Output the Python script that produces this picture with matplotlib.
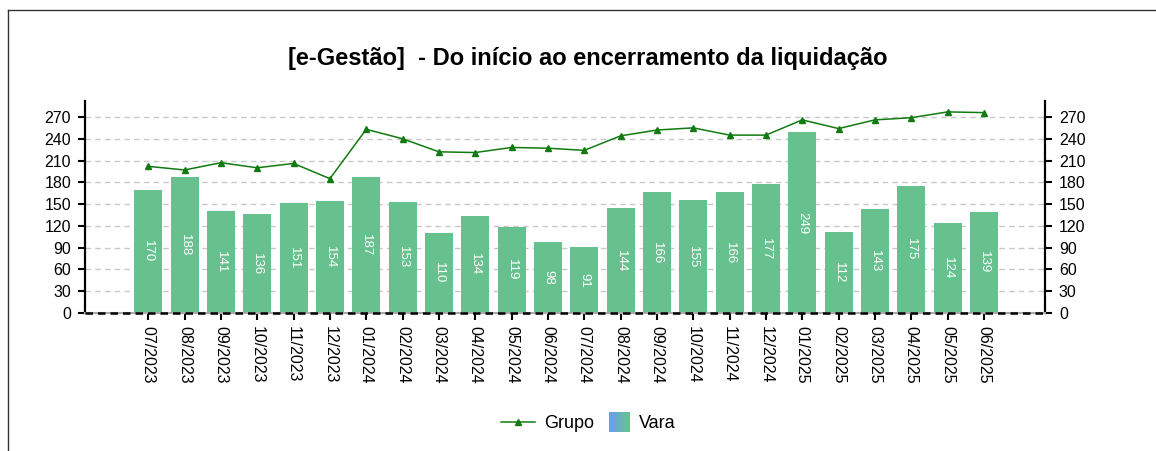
import numpy as np
import matplotlib
matplotlib.use("Agg")
import matplotlib.pyplot as plt
from matplotlib.lines import Line2D
from matplotlib.patches import Rectangle
from matplotlib.legend_handler import HandlerBase

plt.rcParams['font.family'] = ['Liberation Sans', 'DejaVu Sans']

# data
meses = ["07/2023", "08/2023", "09/2023", "10/2023", "11/2023", "12/2023",
         "01/2024", "02/2024", "03/2024", "04/2024", "05/2024", "06/2024",
         "07/2024", "08/2024", "09/2024", "10/2024", "11/2024", "12/2024",
         "01/2025", "02/2025", "03/2025", "04/2025", "05/2025", "06/2025"]
vara = [170, 188, 141, 136, 151, 154, 187, 153, 110, 134, 119, 98,
        91, 144, 166, 155, 166, 177, 249, 112, 143, 175, 124, 139]
grupo = [202, 197, 207, 200, 206, 185, 253, 240, 222, 221, 228, 227,
         224, 244, 252, 255, 245, 245, 266, 254, 266, 269, 277, 276]
y_ticks = list(range(0, 271, 30))

bar_color = "#66c18e"
line_color = "#117a11"


class GradientHandler(HandlerBase):
    # square legend swatch going from blue to green like the original
    def create_artists(self, legend, orig_handle, xdescent, ydescent,
                       width, height, fontsize, trans):
        c0 = np.array(matplotlib.colors.to_rgb("#6a9ff0"))
        c1 = np.array(matplotlib.colors.to_rgb(bar_color))
        side = 14.5
        x0 = -xdescent + width - side
        y0 = -ydescent + height / 2 - side / 2
        n = 12
        arts = []
        for i in range(n):
            c = c0 + (c1 - c0) * i / (n - 1)
            r = Rectangle((x0 + side * i / n, y0), side / n + 0.2, side,
                          facecolor=c, edgecolor="none", transform=trans)
            arts.append(r)
        return arts


fig = plt.figure(figsize=(11.56, 4.51), dpi=100)
ax = fig.add_axes([85 / 1156, 138 / 451, 960 / 1156, 212 / 451])

x = np.arange(len(meses))
ax.bar(x, vara, width=0.77, color=bar_color, zorder=2)
for xi, v in zip(x, vara):
    ax.text(xi, v / 2, str(v), rotation=270, color="white", fontsize=9.5,
            ha="center", va="center", zorder=3)

ax.plot(x, grupo, color=line_color, linewidth=1.1, marker="^", markersize=4,
        zorder=4)

ax.set_xlim(-1.74, 24.68)
ax.set_ylim(0, 292)
ax.set_yticks(y_ticks)
ax.set_xticks(x)
ax.set_xticklabels(meses, rotation=270, fontsize=11.5)
ax.tick_params(axis="y", labelsize=11.5, right=True, labelright=True,
               direction="out", length=5, width=1.5, pad=5)
ax.tick_params(axis="x", direction="out", length=5, width=1.5, pad=4)

ax.grid(axis="y", linestyle=(0, (4, 3)), color="#c8c8c8", linewidth=1, zorder=0)
ax.spines["top"].set_visible(False)
for s in ("left", "right"):
    ax.spines[s].set_linewidth(1.6)
ax.spines["bottom"].set_color("#aaaaaa")
ax.spines["bottom"].set_linewidth(1.5)
ax.axhline(0, color="black", linestyle=(0, (3, 2)), linewidth=1.8, zorder=5,
           clip_on=False)

fig.text(588 / 1156, 1 - 58 / 451,
         "[e-Gestão]  - Do início ao encerramento da liquidação",
         ha="center", va="center", fontsize=17, fontweight="bold")

handles = [Line2D([], [], color=line_color, marker="^", markersize=4, linewidth=1.1),
           Rectangle((0, 0), 1, 1)]
leg = fig.legend(handles, ["Grupo", "Vara"], loc="center",
                 bbox_to_anchor=(588 / 1156, 1 - 424 / 451), ncol=2,
                 frameon=False, fontsize=13, handlelength=1.9, handletextpad=0.5,
                 columnspacing=0.05,
                 handler_map={Rectangle: GradientHandler()})

# outer frame (only top and left visible in the original crop)
fig.add_artist(Line2D([8 / 1156, 1.0], [1 - 10 / 451, 1 - 10 / 451],
                      transform=fig.transFigure, color="#333333", linewidth=1))
fig.add_artist(Line2D([8 / 1156, 8 / 1156], [0, 1 - 10 / 451],
                      transform=fig.transFigure, color="#333333", linewidth=1))

fig.savefig("out.png", dpi=100)
